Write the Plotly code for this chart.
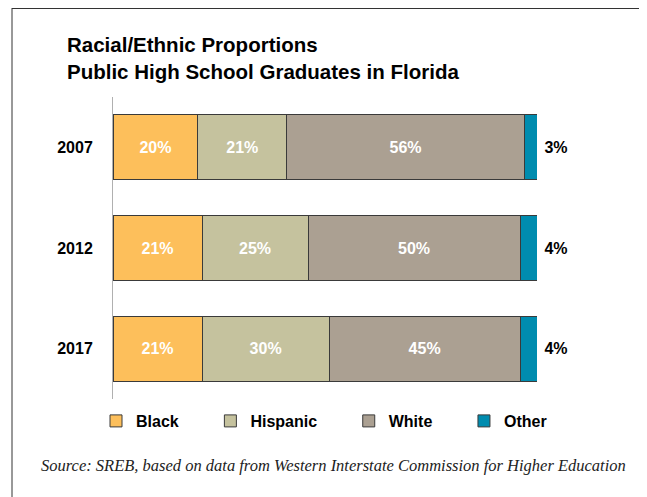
import plotly.graph_objects as go

years = ["2007", "2012", "2017"]
groups = ["Black", "Hispanic", "White", "Other"]
black = [20, 21, 21]
hispanic = [21, 25, 30]
white = [56, 50, 45]
other = [3, 4, 4]
colors = ["#FDBF5B", "#C5C29E", "#ABA092", "#008CAF"]

# the page body adds an 8px margin, so the figure is 8px smaller
W, H = 639, 489
OFF = 8

# trailing no-break spaces widen the legend entries like in the original
PAD = "\u00a0" * 6

fig = go.Figure()
for name, vals, col in zip(groups, [black, hispanic, white, other], colors):
    inside = name != "Other"
    fig.add_trace(go.Bar(
        y=years, x=vals, name=name + PAD, orientation="h",
        marker=dict(color=col, line=dict(color="#3A3A3A", width=1)),
        text=[f"{v}%" if inside else f" {v}%" for v in vals],
        textposition="inside" if inside else "outside",
        insidetextanchor="middle",
        textfont=dict(family="Liberation Sans, Arial", size=16,
                      color="white" if inside else "black", weight="bold"),
        cliponaxis=False,
        hoverinfo="skip",
    ))

# plot area in screen pixels: x 113..537, y 97..399
px0, px1, py0, py1 = 113, 537, 97, 399


def paper_x(sx):
    return (sx - px0) / (px1 - px0)


def paper_y(sy):
    return (py1 - sy) / (py1 - py0)


fig.update_layout(
    barmode="stack",
    bargap=0.353,
    width=W, height=H,
    margin=dict(l=px0 - OFF, r=647 - px1, t=py0 - OFF, b=497 - py1),
    paper_bgcolor="white", plot_bgcolor="white",
    font=dict(family="Liberation Sans, Arial", color="black"),
    title=dict(
        text="<b>Racial/Ethnic Proportions<br>Public High School Graduates in Florida</b>",
        x=(67 - OFF) / W, xanchor="left", xref="container",
        y=1 - (52 - OFF) / H, yanchor="top", yref="container",
        font=dict(size=20.5, color="black"),
    ),
    xaxis=dict(range=[0, 100], visible=False, fixedrange=True),
    yaxis=dict(
        autorange="reversed", showline=True, linecolor="#B0B0B0", linewidth=1,
        showgrid=False, ticks="", ticklabelstandoff=16,
        tickfont=dict(size=16, weight="bold"),
    ),
    legend=dict(
        orientation="h", x=paper_x(96), xanchor="left", y=paper_y(421), yanchor="middle",
        font=dict(size=16, weight="bold"), itemwidth=30, traceorder="normal",
    ),
    showlegend=True,
    annotations=[dict(
        text="<i>Source: SREB, based on data from Western Interstate Commission for Higher Education</i>",
        xref="paper", yref="paper", x=paper_x(333), y=paper_y(465),
        xanchor="center", yanchor="middle", showarrow=False,
        font=dict(family="Liberation Serif", size=16.5, color="#222222"),
    )],
    shapes=[
        dict(type="line", xref="paper", yref="paper",
             x0=paper_x(12), x1=paper_x(660), y0=paper_y(8.5), y1=paper_y(8.5),
             line=dict(color="#333333", width=1)),
        dict(type="line", xref="paper", yref="paper",
             x0=paper_x(12), x1=paper_x(12), y0=paper_y(8), y1=paper_y(510),
             line=dict(color="#333333", width=1)),
    ],
)

fig.write_html("out.html")
